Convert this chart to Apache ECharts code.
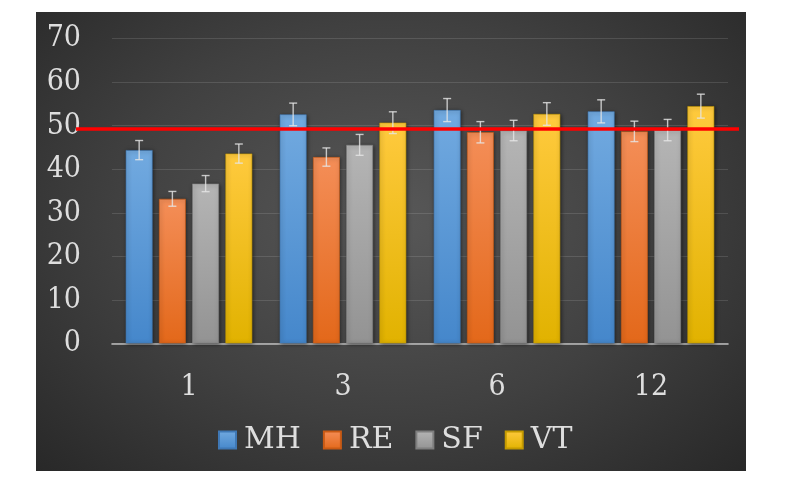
<!DOCTYPE html>
<html><head><meta charset="utf-8">
<script src="https://cdn.jsdelivr.net/npm/echarts@6/dist/echarts.min.js"></script>
<style>
html,body{margin:0;padding:0;background:#fff;width:786px;height:493px;overflow:hidden}
#panel{position:absolute;left:36px;top:12px;width:710px;height:459px;background:radial-gradient(ellipse at 50% 45%, #585858 0%, #404040 55%, #282828 100%);}
#chart{width:710px;height:459px}
</style></head><body><div id="panel"><div id="chart"></div></div>
<script>
const categories = ['1', '3', '6', '12'];
const seriesNames = ['MH', 'RE', 'SF', 'VT'];
const mh = [44.4, 52.6, 53.6, 53.3];
const re = [33.2, 42.8, 48.5, 48.7];
const sf = [36.7, 45.6, 48.9, 49.0];
const vt = [43.6, 50.7, 52.7, 54.5];
const errMH = [2.2, 2.6, 2.65, 2.65];
const errRE = [1.7, 2.1, 2.45, 2.35];
const errSF = [1.85, 2.4, 2.35, 2.45];
const errVT = [2.2, 2.5, 2.6, 2.75];
const refLine = 49.3;

const BAR_W = 0.174, GAP = 0.24;
const gradients = [
  ['#72aae0', '#4587cb'],
  ['#f48e58', '#e3681a'],
  ['#b5b5b5', '#939393'],
  ['#ffca3e', '#e1b200']
];
const borders = ['#3f78b5', '#c95a14', '#7f7f7f', '#c49a00'];
const txt = '#dedede';
const valuesAll = [mh, re, sf, vt];
const errsAll = [errMH, errRE, errSF, errVT];

function grad(c) {
  return new echarts.graphic.LinearGradient(0, 0, 0, 1, [
    {offset: 0, color: c[0]}, {offset: 1, color: c[1]}
  ]);
}

const series = [];
valuesAll.forEach((vals, si) => {
  const s = {
    type: 'bar', name: seriesNames[si], data: vals,
    barWidth: (BAR_W * 100) + '%', barGap: (GAP * 100) + '%',
    itemStyle: {
      color: grad(gradients[si]), borderColor: borders[si], borderWidth: 0.6,
      shadowBlur: 4, shadowColor: 'rgba(0,0,0,0.55)', shadowOffsetX: 1, shadowOffsetY: 1
    },
    z: 2
  };
  if (si === 3) {
    s.markLine = {
      silent: true, symbol: ['none', 'none'], label: {show: false}, z: 10,
      lineStyle: {color: '#ff0000', width: 3.5, type: 'solid', opacity: 1},
      data: [[{x: 40, yAxis: refLine}, {x: 703, yAxis: refLine}]]
    };
  }
  series.push(s);
});
errsAll.forEach((errs, si) => {
  const vals = valuesAll[si];
  series.push({
    type: 'custom', name: seriesNames[si] + '_err', z: 6, silent: true,
    data: vals.map((v, i) => [i, v - errs[i], v + errs[i]]),
    encode: {x: 0, y: [1, 2]},
    renderItem: function (params, api) {
      const idx = api.value(0);
      const lo = api.coord([idx, api.value(1)]);
      const hi = api.coord([idx, api.value(2)]);
      const band = api.size([1, 0])[0];
      const bw = band * BAR_W, gap = bw * GAP;
      const groupW = 4 * bw + 3 * gap;
      const x = lo[0] - groupW / 2 + si * (bw + gap) + bw / 2;
      const cap = 4;
      const style = {stroke: 'rgba(230,230,230,0.8)', lineWidth: 1.4};
      return {type: 'group', children: [
        {type: 'line', shape: {x1: x, y1: hi[1], x2: x, y2: lo[1]}, style: style},
        {type: 'line', shape: {x1: x - cap, y1: hi[1], x2: x + cap, y2: hi[1]}, style: style},
        {type: 'line', shape: {x1: x - cap, y1: lo[1], x2: x + cap, y2: lo[1]}, style: style}
      ]};
    }
  });
});

const chart = echarts.init(document.getElementById('chart'), null, {renderer: 'canvas'});
chart.setOption({
  backgroundColor: 'transparent',
  animation: false,
  grid: {left: 76, right: 18, top: 26.7, bottom: 127.7},
  legend: {
    data: seriesNames, left: 177, top: 408, icon: 'rect', itemWidth: 17, itemHeight: 17,
    itemGap: 22,
    textStyle: {color: txt, fontFamily: "'DejaVu Serif', serif", fontSize: 30, padding: [0, 0, 0, 3]}
  },
  xAxis: {
    type: 'category', data: categories,
    axisTick: {show: false},
    axisLine: {lineStyle: {color: '#bdbdbd', width: 1.6}},
    axisLabel: {color: txt, fontFamily: "'DejaVu Serif Condensed', 'DejaVu Serif', serif", fontSize: 30, margin: 29}
  },
  yAxis: {
    type: 'value', min: 0, max: 70, interval: 10,
    axisLine: {show: false}, axisTick: {show: false},
    splitLine: {lineStyle: {color: 'rgba(255,255,255,0.12)', width: 1}},
    axisLabel: {color: txt, fontFamily: "'DejaVu Serif Condensed', 'DejaVu Serif', serif", fontSize: 30, margin: 31}
  },
  series: series
});
</script></body></html>
